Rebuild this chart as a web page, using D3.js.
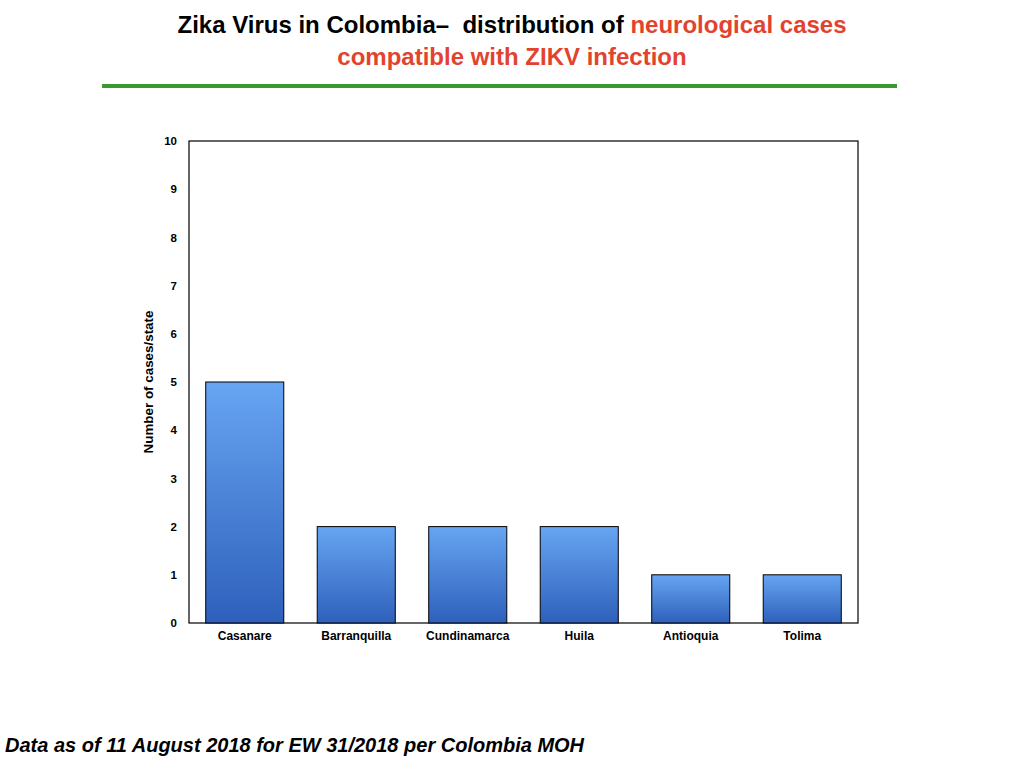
<!DOCTYPE html>
<html>
<head>
<meta charset="utf-8">
<script src="https://cdn.jsdelivr.net/npm/d3@7"></script>
<style>
  body { margin: 0; background: #fff; }
  svg { font-family: "Liberation Sans", Arial, sans-serif; }
</style>
</head>
<body>
<div class="main"></div>
<script>
// Données
const etats = ['Casanare', 'Barranquilla', 'Cundinamarca', 'Huila', 'Antioquia', 'Tolima'];
const cas = [5, 2, 2, 2, 1, 1];
const graduations = [0, 1, 2, 3, 4, 5, 6, 7, 8, 9, 10];

const width = 1024;
const height = 768;
const margin = { top: 141, right: 166, bottom: 145, left: 189 };

const svg = d3.select('.main')
  .append('svg')
  .attr('width', width)
  .attr('height', height);

// Dégradé des barres
const grad = svg.append('defs').append('linearGradient')
  .attr('id', 'barre')
  .attr('x1', 0).attr('y1', 0).attr('x2', 0).attr('y2', 1);
grad.append('stop').attr('offset', '0%').attr('stop-color', '#67a5f2');
grad.append('stop').attr('offset', '100%').attr('stop-color', '#2e60bb');

// Titre
const titre = svg.append('text')
  .attr('text-anchor', 'middle')
  .style('font-weight', 'bold')
  .style('font-size', '24px');
const l1 = titre.append('tspan').attr('x', 512).attr('y', 33);
l1.append('tspan').attr('fill', '#000').text('Zika Virus in Colombia\u2013\u00a0 distribution of ');
l1.append('tspan').attr('fill', '#e2432e').text('neurological cases');
titre.append('tspan').attr('x', 512).attr('y', 65)
  .attr('fill', '#e2432e').text('compatible with ZIKV infection');

svg.append('line')
  .attr('x1', 102).attr('x2', 897)
  .attr('y1', 86).attr('y2', 86)
  .attr('stroke', '#3b9a2f')
  .attr('stroke-width', 4);

// Échelles
const x = d3.scaleBand()
  .domain(etats)
  .range([margin.left, width - margin.right])
  .paddingInner(0.3)
  .paddingOuter(0.15);

const y = d3.scaleLinear()
  .domain([0, 10])
  .range([height - margin.bottom, margin.top]);

// Cadre
svg.append('rect')
  .attr('x', margin.left)
  .attr('y', margin.top)
  .attr('width', width - margin.right - margin.left)
  .attr('height', height - margin.bottom - margin.top)
  .attr('fill', 'none')
  .attr('stroke', '#000')
  .attr('stroke-width', 1.2);

// Barres
svg.append('g')
  .selectAll('rect')
  .data(etats)
  .enter()
  .append('rect')
  .attr('x', d => x(d))
  .attr('y', (d, i) => y(cas[i]))
  .attr('width', x.bandwidth())
  .attr('height', (d, i) => y(0) - y(cas[i]))
  .attr('fill', 'url(#barre)')
  .attr('stroke', '#000')
  .attr('stroke-width', 1);

// Axe vertical
svg.append('g')
  .attr('transform', `translate(${margin.left}, 0)`)
  .call(d3.axisLeft(y).tickValues(graduations).tickSize(0).tickPadding(12))
  .call(g => g.select('.domain').remove())
  .call(g => g.selectAll('text')
    .style('font-family', '"Liberation Sans", Arial, sans-serif')
    .style('font-weight', 'bold')
    .style('font-size', '11.5px')
    .attr('fill', '#000'));

// Axe horizontal
svg.append('g')
  .attr('transform', `translate(0, ${height - margin.bottom})`)
  .call(d3.axisBottom(x).tickSize(0).tickPadding(8))
  .call(g => g.select('.domain').remove())
  .call(g => g.selectAll('text')
    .style('font-family', '"Liberation Sans", Arial, sans-serif')
    .style('font-weight', 'bold')
    .style('font-size', '12px')
    .attr('fill', '#000'));

// Titre de l'axe
svg.append('text')
  .attr('transform', `translate(153, ${(margin.top + height - margin.bottom) / 2}) rotate(-90)`)
  .attr('text-anchor', 'middle')
  .style('font-weight', 'bold')
  .style('font-size', '13.4px')
  .text('Number of cases/state');

// Note de bas de page
svg.append('text')
  .attr('x', 5)
  .attr('y', 752)
  .style('font-weight', 'bold')
  .style('font-style', 'italic')
  .style('font-size', '20px')
  .text('Data as of 11 August 2018 for EW 31/2018 per Colombia MOH');
</script>
</body>
</html>
